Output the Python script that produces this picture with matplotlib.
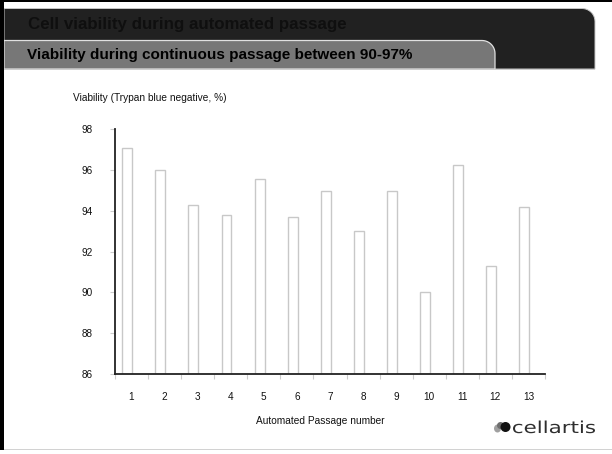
import matplotlib
matplotlib.use("Agg")
import matplotlib.pyplot as plt
from matplotlib.patches import Rectangle, Circle, Ellipse, PathPatch
from matplotlib.path import Path
from matplotlib.textpath import TextPath
from matplotlib.font_manager import FontProperties
from matplotlib.transforms import Affine2D
import numpy as np

plt.rcParams['font.family'] = ['Liberation Sans', 'DejaVu Sans']

# Data
passages = ["1", "2", "3", "4", "5", "6", "7", "8", "9", "10", "11", "12", "13"]
viability = [97.05, 96.0, 94.3, 93.77, 95.53, 93.67, 94.95, 92.99, 94.95, 90.0, 96.22, 91.27, 94.16]
y_ticks = [86, 88, 90, 92, 94, 96, 98]

title = "Cell viability during automated passage"
subtitle = "Viability during continuous passage between 90-97%"
y_label = "Viability (Trypan blue negative, %)"
x_label = "Automated Passage number"
brand = "cellartis"

W, H = 612, 454
fig = plt.figure(figsize=(W / 100, H / 100), dpi=100)
fig.patch.set_facecolor("white")

# Full-figure canvas in pixel units (y downwards) for the slide decoration
bg = fig.add_axes([0, 0, 1, 1], zorder=0)
bg.set_xlim(0, W)
bg.set_ylim(H, 0)
bg.axis("off")


def tab_path(x0, x1, y0, y1, r, n=12):
    """Rectangle whose top-right corner is rounded with radius r."""
    verts = [(x0, y1), (x0, y0), (x1 - r, y0)]
    for t in np.linspace(-np.pi / 2, 0, n):
        verts.append((x1 - r + r * np.cos(t), y0 + r + r * np.sin(t)))
    verts += [(x1, y1), (x0, y1)]
    codes = [Path.MOVETO] + [Path.LINETO] * (len(verts) - 2) + [Path.CLOSEPOLY]
    return Path(verts, codes)


# Frame lines
bg.add_patch(Rectangle((0, 0), W, 1.6, facecolor="black", edgecolor="none"))
bg.add_patch(Rectangle((4, 448.5), W, 1.2, facecolor="#d2d2d2", edgecolor="none"))

# Dark header tab
bg.add_patch(PathPatch(tab_path(4, 595, 8.5, 69, 13), facecolor="#212121",
                       edgecolor="#c8c8c8", linewidth=0.7))
# Gray sub-header tab
bg.add_patch(PathPatch(tab_path(4, 495, 40.5, 69, 13), facecolor="#777777",
                       edgecolor="#e0e0e0", linewidth=0.9))
bg.add_patch(Rectangle((0, 0), 4, 450, facecolor="black", edgecolor="none"))
bg.add_patch(Rectangle((4, 69), 591, 1.0, facecolor="#cfcfcf", edgecolor="none"))

bg.text(28, 24.5, title, fontsize=12.2, fontweight="bold", color="#0f0f0f",
        ha="left", va="center")
bg.text(27, 55, subtitle, fontsize=11.0, fontweight="bold", color="black",
        ha="left", va="center")

# Chart area
ax = fig.add_axes([115 / W, 1 - 374 / H, (545 - 115) / W, (374 - 129) / H], zorder=1)
ax.patch.set_alpha(0)
x = np.arange(len(passages))
ax.bar(x - 0.13, [v - 86 for v in viability], bottom=86, width=0.3,
       facecolor="white", edgecolor="#c8c8c8", linewidth=1.0)
ax.set_xlim(-0.5, len(passages) - 0.5)
ax.set_ylim(86, 98)

ax.set_yticks(y_ticks)
ax.set_yticklabels([str(t) for t in y_ticks], fontsize=7.2)
ax.tick_params(axis="y", length=3.6, width=0.8, color="#cccccc", pad=12.2,
               labelcolor="#111111")

ax.set_xticks(x)
ax.set_xticklabels(passages, fontsize=7.2, color="#111111")
ax.tick_params(axis="x", length=0, pad=13)
ax.set_xticks(np.arange(len(passages) + 1) - 0.5, minor=True)
ax.tick_params(axis="x", which="minor", length=3.6, width=0.8, color="#cccccc")

for s in ["top", "right"]:
    ax.spines[s].set_visible(False)
for s in ["left", "bottom"]:
    ax.spines[s].set_color("#222222")
    ax.spines[s].set_linewidth(1.3)

bg.text(73, 98, y_label, fontsize=7.3, color="#111111", ha="left", va="center")
bg.text(320, 420.5, x_label, fontsize=7.3, color="#111111", ha="center", va="center")

# Company logo: three overlapping dots and the wide word mark
bg.add_patch(Ellipse((497.5, 428.5), 7, 8, facecolor="#a0a0a0", edgecolor="none"))
bg.add_patch(Ellipse((500.5, 425.5), 7, 7, facecolor="#6e6e6e", edgecolor="none"))
bg.add_patch(Circle((505.5, 427), 5, facecolor="#111111", edgecolor="none"))

word = TextPath((0, 0), brand, size=1, prop=FontProperties(family="DejaVu Sans"))
ext = word.get_extents()
sx = 82 / ext.width
sy = 12.5 / ext.y1
word_tf = Affine2D().translate(-ext.x0, 0).scale(sx, -sy).translate(513, 433)
bg.add_patch(PathPatch(word_tf.transform_path(word), facecolor="#2e2e2e",
                       edgecolor="none"))

fig.savefig("out.png", dpi=100)
